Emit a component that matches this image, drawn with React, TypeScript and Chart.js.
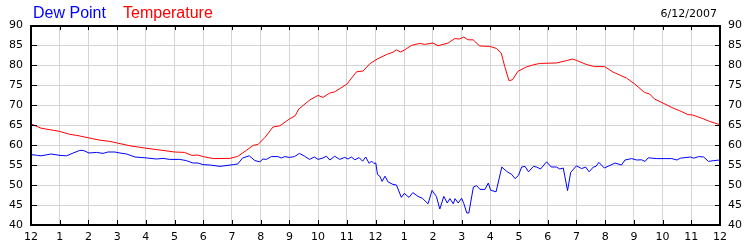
import React, { useEffect, useRef } from "react";
import { Chart, registerables } from "chart.js";

Chart.register(...registerables);

const tempHours = [0, 0.35, 1.0, 1.36, 1.6, 2.0, 2.4, 2.75, 3.0, 3.45, 4.0, 4.6, 5.0, 5.35, 5.6, 5.8, 6.0, 6.35, 6.93, 7.2, 7.5, 7.74, 7.91, 8.15, 8.43, 8.67, 9.0, 9.2, 9.33, 9.72, 10.0, 10.17, 10.41, 10.58, 11.0, 11.34, 11.57, 11.8, 12.06, 12.38, 12.61, 12.73, 12.87, 13.0, 13.25, 13.54, 13.71, 14.0, 14.18, 14.53, 14.76, 14.93, 15.08, 15.22, 15.4, 15.63, 15.98, 16.21, 16.38, 16.5, 16.65, 16.77, 16.96, 17.25, 17.48, 17.72, 18.3, 18.65, 18.86, 19.0, 19.34, 19.63, 19.98, 20.27, 20.74, 21.03, 21.37, 21.55, 21.72, 22.01, 22.36, 22.65, 22.88, 23.05, 23.4, 23.63, 24];
const tempValues = [65.3, 64.2, 63.4, 62.65, 62.4, 61.8, 61.2, 60.9, 60.5, 59.8, 59.2, 58.65, 58.25, 58.15, 57.4, 57.5, 57.1, 56.6, 56.65, 57.15, 58.65, 59.9, 60.15, 61.9, 64.5, 64.8, 66.5, 67.3, 69, 71.3, 72.4, 71.9, 73, 73.3, 75.2, 78.3, 78.5, 80.3, 81.5, 82.6, 83.2, 83.8, 83.25, 83.7, 84.9, 85.4, 85.15, 85.5, 84.8, 85.5, 86.6, 86.5, 87, 86.3, 86.3, 84.75, 84.65, 84.15, 83, 79.65, 76.1, 76.3, 78.4, 79.5, 80, 80.4, 80.5, 81.1, 81.5, 81.15, 80.15, 79.6, 79.6, 78.25, 76.75, 75.25, 73.15, 72.75, 71.5, 70.5, 69.25, 68.4, 67.6, 67.5, 66.6, 65.9, 65.1];

const dewHours = [0, 0.23, 0.35, 0.7, 1.01, 1.24, 1.47, 1.7, 1.82, 2.02, 2.28, 2.51, 2.68, 2.92, 3.1, 3.33, 3.62, 3.97, 4.37, 4.6, 4.83, 5.18, 5.41, 5.64, 5.82, 5.99, 6.23, 6.58, 7.05, 7.2, 7.37, 7.6, 7.8, 7.97, 8.08, 8.2, 8.37, 8.6, 8.72, 8.84, 9.0, 9.18, 9.35, 9.53, 9.7, 9.87, 10.0, 10.17, 10.29, 10.41, 10.58, 10.75, 10.93, 11.04, 11.16, 11.28, 11.43, 11.55, 11.66, 11.78, 11.86, 11.94, 12.01, 12.07, 12.15, 12.23, 12.33, 12.44, 12.61, 12.73, 12.9, 13.0, 13.17, 13.3, 13.48, 13.63, 13.83, 13.97, 14.12, 14.24, 14.38, 14.5, 14.59, 14.71, 14.77, 14.88, 15.0, 15.08, 15.18, 15.25, 15.41, 15.52, 15.64, 15.81, 15.93, 16.01, 16.2, 16.4, 16.57, 16.75, 16.86, 16.98, 17.09, 17.21, 17.33, 17.5, 17.61, 17.75, 17.96, 18.12, 18.3, 18.42, 18.54, 18.69, 18.8, 19.0, 19.18, 19.32, 19.44, 19.59, 19.68, 19.78, 19.97, 20.17, 20.34, 20.57, 20.69, 20.92, 21.1, 21.27, 21.39, 21.5, 21.8, 22.09, 22.32, 22.5, 22.62, 22.97, 23.08, 23.26, 23.43, 23.6, 23.78, 24];
const dewValues = [57.6, 57.4, 57.3, 57.75, 57.4, 57.3, 58, 58.65, 58.65, 58, 58.15, 57.9, 58.25, 58.25, 58, 57.75, 57, 56.8, 56.5, 56.65, 56.4, 56.4, 56.1, 55.5, 55.5, 55.1, 55.0, 54.65, 55.1, 55.25, 56.75, 57.3, 56.1, 55.8, 56.5, 56.4, 57.1, 57.1, 56.75, 57.1, 56.9, 57.1, 57.9, 57.2, 56.4, 57.0, 56.4, 56.75, 57.2, 56.25, 57.2, 56.4, 56.9, 56.5, 57.0, 56.3, 56.85, 55.95, 57.0, 55.4, 56.0, 55.4, 55.5, 52.6, 52.2, 50.9, 52.2, 50.75, 50.15, 50.0, 46.9, 47.9, 46.9, 48.1, 47.15, 46.7, 45.3, 48.65, 47.15, 44.0, 47.15, 45.5, 46.6, 45.3, 46.6, 45.5, 46.7, 45.3, 43.0, 43.0, 49.5, 49.85, 48.9, 48.9, 50.5, 48.7, 48.3, 54.5, 53.4, 52.6, 51.6, 52.4, 54.5, 54.65, 53.3, 54.65, 54.5, 54.0, 55.8, 54.5, 54.5, 54.0, 54.25, 48.6, 53.15, 54.8, 54.1, 54.5, 53.3, 54.5, 54.65, 55.65, 54.25, 54.9, 55.5, 55.0, 56.25, 56.6, 56.25, 56.3, 55.9, 56.8, 56.6, 56.6, 56.6, 56.25, 56.7, 57.0, 56.7, 57.1, 57.0, 55.9, 56.1, 56.25];

const seriesNames = ["Dew Point", "Temperature"];
const seriesColors = ["#0000ff", "#ff0000"];
const dateLabel = "6/12/2007";
const yMin = 40;
const yMax = 90;
const yStep = 5;
const hourLabel = (h: number) => String(h % 12 === 0 ? 12 : h % 12);

const TICK_FONT = { family: "DejaVu Sans", size: 11 };

const framePlugin = {
  id: "frame",
  afterDraw(chart: any) {
    const ctx = chart.ctx;
    const a = chart.chartArea;
    ctx.save();
    // inward tick marks
    ctx.strokeStyle = "#000";
    ctx.lineWidth = 1;
    ctx.beginPath();
    const xs = chart.scales.x;
    xs.ticks.forEach((t: any) => {
      const px = Math.round(xs.getPixelForValue(t.value)) + 0.5;
      ctx.moveTo(px, a.bottom);
      ctx.lineTo(px, a.bottom - 5);
      ctx.moveTo(px, a.top);
      ctx.lineTo(px, a.top + 5);
    });
    const ys = chart.scales.y;
    ys.ticks.forEach((t: any) => {
      const py = Math.round(ys.getPixelForValue(t.value)) + 0.5;
      ctx.moveTo(a.left, py);
      ctx.lineTo(a.left + 6, py);
      ctx.moveTo(a.right, py);
      ctx.lineTo(a.right - 5, py);
    });
    ctx.stroke();
    // frame
    ctx.lineWidth = 2;
    ctx.strokeRect(a.left, a.top + 1, a.right - a.left, a.bottom - a.top - 1);
    // legend texts
    ctx.font = "16px 'Liberation Sans'";
    ctx.textBaseline = "alphabetic";
    ctx.textAlign = "left";
    ctx.fillStyle = seriesColors[0];
    ctx.fillText(seriesNames[0], 33, 18);
    ctx.fillStyle = seriesColors[1];
    ctx.fillText(seriesNames[1], 123, 18);
    // date
    ctx.font = "11px 'DejaVu Sans'";
    ctx.fillStyle = "#000";
    ctx.textAlign = "right";
    ctx.fillText(dateLabel, 717, 17);
    ctx.restore();
  },
};

export default function App() {
  const ref = useRef<HTMLCanvasElement | null>(null);
  useEffect(() => {
    if (!ref.current) return;
    const chart = new Chart(ref.current, {
      type: "line",
      data: {
        datasets: [
          {
            label: seriesNames[1],
            data: tempHours.map((h, i) => ({ x: h, y: tempValues[i] })),
            borderColor: seriesColors[1],
            borderWidth: 1,
            pointRadius: 0,
            tension: 0,
            fill: false,
          },
          {
            label: seriesNames[0],
            data: dewHours.map((h, i) => ({ x: h, y: dewValues[i] })),
            borderColor: seriesColors[0],
            borderWidth: 1,
            pointRadius: 0,
            tension: 0,
            fill: false,
          },
        ],
      },
      options: {
        animation: false,
        responsive: false,
        devicePixelRatio: 1,
        layout: { padding: { top: 25, left: 0, right: 0, bottom: 0 } },
        plugins: { legend: { display: false }, tooltip: { enabled: false }, title: { display: false } },
        scales: {
          x: {
            type: "linear",
            min: 0,
            max: 24,
            afterFit: (s: any) => { s.height = 25; },
            ticks: {
              stepSize: 1,
              autoSkip: false,
              maxRotation: 0,
              padding: 6,
              color: "#000",
              font: TICK_FONT,
              callback: (v: any) => hourLabel(Number(v)),
            },
            grid: { color: "#d4d4d4", drawTicks: false, lineWidth: 1 },
            border: { display: false },
          },
          y: {
            position: "left",
            min: yMin,
            max: yMax,
            afterFit: (s: any) => { s.width = 31; },
            ticks: { stepSize: yStep, padding: 8, color: "#000", font: TICK_FONT },
            grid: { color: "#d4d4d4", drawTicks: false, lineWidth: 1 },
            border: { display: false },
          },
          y2: {
            position: "right",
            min: yMin,
            max: yMax,
            afterFit: (s: any) => { s.width = 30; },
            ticks: { stepSize: yStep, padding: 8, color: "#000", font: TICK_FONT },
            grid: { display: false, drawTicks: false },
            border: { display: false },
          },
        },
      } as any,
      plugins: [framePlugin],
    });
    return () => chart.destroy();
  }, []);
  return (
    <div style={{ position: "absolute", left: 0, top: 0, width: 750, height: 250, background: "#fff" }}>
      <canvas ref={ref} width={750} height={250} style={{ display: "block" }} />
    </div>
  );
}
